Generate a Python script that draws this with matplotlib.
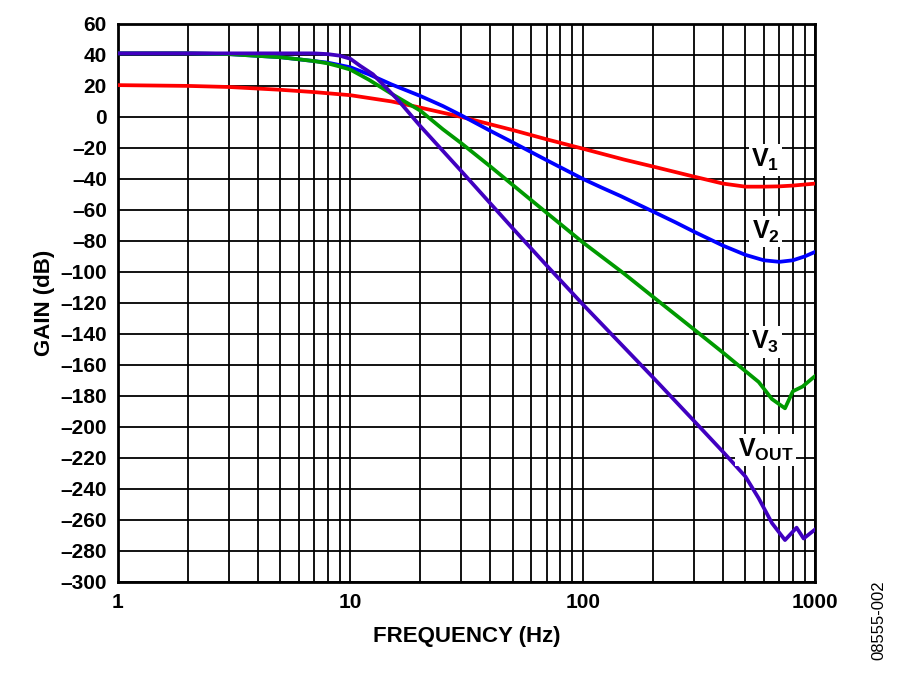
import numpy as np
import matplotlib.pyplot as plt
from matplotlib.ticker import FixedLocator, LogLocator, NullFormatter, FuncFormatter

plt.rcParams['font.family'] = ['Liberation Sans Narrow', 'Liberation Sans', 'DejaVu Sans']
plt.rcParams['font.weight'] = 'bold'
plt.rcParams['mathtext.fontset'] = 'custom'
plt.rcParams['mathtext.rm'] = 'Liberation Sans:bold'
plt.rcParams['mathtext.it'] = 'Liberation Sans:bold'
plt.rcParams['mathtext.bf'] = 'Liberation Sans:bold'
plt.rcParams['mathtext.default'] = 'rm'

# gain curves (Hz, dB)
f_v1 = [1, 2, 3, 5, 7, 10, 15, 20, 30, 50, 70, 100, 150, 200, 300, 400, 500, 600, 700, 800, 1000]
g_v1 = [20.5, 20, 19.3, 17.5, 16, 14, 10, 6, 0, -8.5, -14.5, -20.5, -27.5, -32, -38.5, -43, -45, -45, -44.8, -44.3, -43]

f_v2 = [1, 2, 3, 5, 7, 8, 10, 12, 15, 20, 25, 30, 40, 50, 70, 100, 120, 145, 200, 250, 300, 400, 500, 600, 700, 800, 900, 1000]
g_v2 = [41, 41, 40.5, 38.5, 36, 35, 32, 27.5, 21, 13.5, 7, 1, -9, -16.5, -28, -40, -45.5, -51, -61, -68, -74, -83, -89, -92.5, -93.5, -92.5, -90, -87]

f_v3 = [1, 2, 3, 5, 7, 8, 9, 10, 12, 15, 20, 25, 30, 40, 50, 70, 100, 150, 200, 300, 400, 500, 570, 650, 740, 800, 880, 1000]
g_v3 = [41, 41, 40.5, 38.5, 36, 34.5, 32.5, 30.5, 24, 15, 4, -8, -17, -32, -44, -62, -81, -101, -116, -137, -152, -164, -171, -182, -188, -177, -174, -167]

f_vout = [1, 2, 5, 7, 8, 9, 10, 11, 12.5, 14, 16, 20, 30, 50, 70, 100, 200, 300, 400, 500, 570, 650, 740, 830, 890, 1000]
g_vout = [41, 41, 41, 41, 40.5, 39.5, 37.5, 33, 27.5, 20, 11, -6, -35, -72, -96, -121, -168, -196, -216, -232, -246, -262, -273, -265, -272, -266]

labels = ['V$_1$', 'V$_2$', 'V$_3$', 'V$_{OUT}$']
label_y = [-28, -74, -145, -215]

fig = plt.figure(figsize=(9, 6.83), dpi=100)
ax = fig.add_axes([0.131, 0.148, 0.775, 0.817])

ax.plot(f_v1, g_v1, color='#ff0000', lw=2.7, zorder=3)
ax.plot(f_v2, g_v2, color='#0000ff', lw=2.7, zorder=3)
ax.plot(f_v3, g_v3, color='#009a00', lw=2.7, zorder=3)
ax.plot(f_vout, g_vout, color='#4000c0', lw=2.7, zorder=3)

ax.set_xscale('log')
ax.set_xlim(1, 1000)
ax.set_ylim(-300, 60)
ax.yaxis.set_major_locator(FixedLocator(np.arange(-300, 61, 20)))
ax.yaxis.set_major_formatter(FuncFormatter(lambda v, p: ('%d' % v).replace('-', '\u2013')))
ax.xaxis.set_major_locator(LogLocator(base=10))
ax.xaxis.set_minor_locator(LogLocator(base=10, subs=np.arange(2, 10)))
ax.xaxis.set_minor_formatter(NullFormatter())
ax.xaxis.set_major_formatter(FuncFormatter(lambda v, p: '%d' % v))

ax.grid(True, which='both', color='black', lw=1.3, zorder=1)
ax.tick_params(which='both', length=0, labelsize=15, pad=8)
for s in ax.spines.values():
    s.set_linewidth(2)

for lab, yv in zip(labels, label_y):
    ax.text(610, yv, lab, fontsize=18, ha='center', va='center', zorder=4,
            bbox=dict(facecolor='white', edgecolor='none', pad=2))

ax.set_xlabel('FREQUENCY (Hz)', fontsize=16, fontweight='bold', labelpad=10)
ax.set_ylabel('GAIN (dB)', fontsize=16, fontweight='bold', labelpad=4)

fig.text(0.977, 0.092, '08555-002', rotation=90, fontsize=12, fontweight='normal',
         family=['Liberation Sans', 'DejaVu Sans'], ha='center', va='center')

fig.savefig('out.png', dpi=100)
